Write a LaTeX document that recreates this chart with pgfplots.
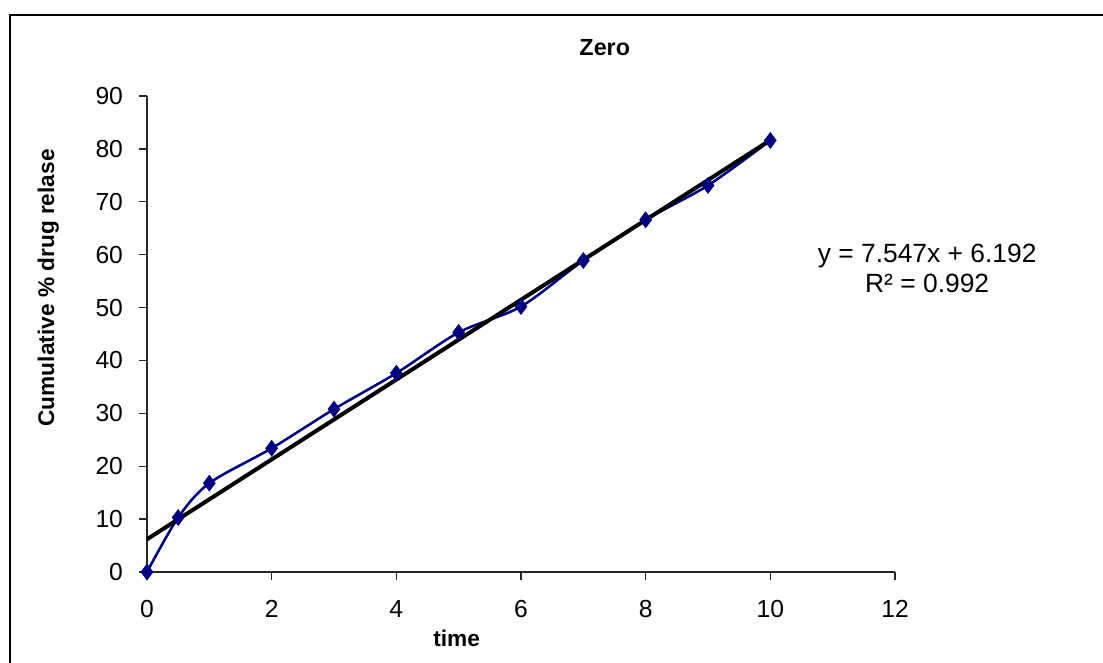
\documentclass[border=0pt]{standalone}
\usepackage{pgfplots}
\pgfplotsset{compat=1.18}
\usepackage{fontspec}
\setmainfont{Liberation Sans}
\definecolor{navy}{RGB}{0,0,128}
\begin{document}
\fontsize{17.5}{21}\selectfont
\begin{tikzpicture}
\useasboundingbox (0,0) rectangle (827.25pt,496.5pt);
\draw[line width=1.5pt] (7.5pt,-2pt) -- (7.5pt,485.25pt) -- (830pt,485.25pt);
\begin{axis}[
  at={(110.25pt,67.5pt)}, anchor=south west,
  scale only axis, width=561pt, height=357pt,
  xmin=0, xmax=12, ymin=0, ymax=90,
  xtick={0,2,...,12}, ytick={0,10,...,90},
  axis x line*=bottom, axis y line*=left,
  axis line style={-, line width=1pt, draw=black!85},
  tick align=outside, major tick length=6pt,
  tick style={line width=1pt, draw=black!85},
  /pgf/number format/assume math mode=true,
  tick label style={font=\fontsize{18.5}{21}\selectfont},
  yticklabel style={xshift=-6pt},
  xticklabel style={yshift=-9pt},
  title={\bfseries Zero},
  title style={at={(axis description cs:0.612,1.084)}, anchor=center, font=\fontsize{17.5}{21}\selectfont},
  xlabel={\bfseries time},
  xlabel style={at={(axis description cs:0.414,-0.139)}, anchor=center, font=\fontsize{17}{21}\selectfont},
  ylabel={\bfseries Cumulative \% drug relase},
  ylabel style={at={(axis description cs:-0.132,0.597)}, anchor=center, font=\fontsize{17}{21}\selectfont},
  clip=false,
]
\addplot[navy, line width=1.9pt, smooth, tension=0.5, mark=diamond*, mark size=4.8pt, mark options={fill=navy, solid}]
  coordinates {(0,0) (0.5,10.3) (1,16.8) (2,23.4) (3,30.8) (4,37.6) (5,45.3) (6,50.2) (7,58.9) (8,66.6) (9,73.1) (10,81.6)};
\addplot[black, line width=3pt] coordinates {(0,6.192) (10,81.662)};
\node[align=center, font=\fontsize{19.8}{22}\selectfont] at (axis description cs:1.043,0.638) {y = 7.547x + 6.192\\R² = 0.992};
\end{axis}
\end{tikzpicture}
\end{document}
